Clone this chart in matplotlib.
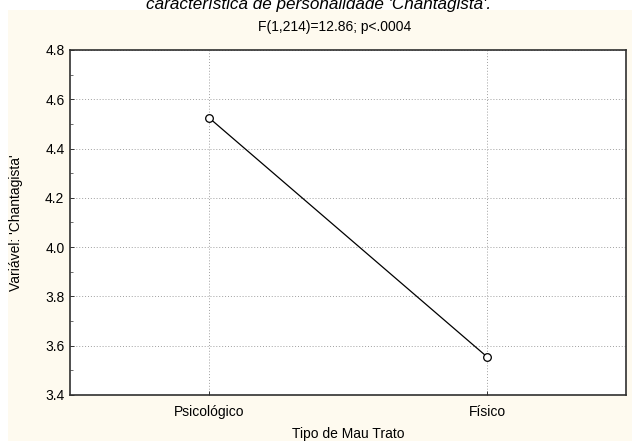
import matplotlib
matplotlib.use('Agg')
import matplotlib.pyplot as plt
from matplotlib.patches import Rectangle
from matplotlib.ticker import MultipleLocator, FormatStrFormatter

plt.rcParams['font.family'] = ['Liberation Sans', 'DejaVu Sans']

# médias por tipo de mau trato
grupos = ['Psicológico', 'Físico']
medias = [4.525, 3.555]

W, H = 634, 441
fig = plt.figure(figsize=(W / 100, H / 100), dpi=100, facecolor='white')

# painel creme de fundo
fig.patches.append(Rectangle((8 / W, 0), 624 / W, 1 - 10 / H, transform=fig.transFigure,
                             facecolor='#fefaef', edgecolor='none', zorder=-10))

ax = fig.add_axes([70 / W, 1 - 395 / H, 556 / W, 345 / H])
ax.set_facecolor('white')

x = list(range(len(grupos)))
ax.plot(x, medias, '-', color='black', linewidth=0.9, zorder=3)
ax.plot(x, medias, 'o', markersize=5.5, markerfacecolor='white',
        markeredgecolor='black', markeredgewidth=0.9, zorder=4)

ax.set_xlim(-0.5, 1.5)
ax.set_ylim(3.4, 4.8)
ax.set_xticks(x)
ax.set_xticklabels(grupos)
ax.yaxis.set_major_locator(MultipleLocator(0.2))
ax.yaxis.set_minor_locator(MultipleLocator(0.1))
ax.yaxis.set_major_formatter(FormatStrFormatter('%.1f'))

ax.grid(True, which='major', linestyle=(0, (1, 2)), color='#a0a0a0', linewidth=0.7)
ax.tick_params(axis='both', which='major', labelsize=10, length=3, width=0.7,
               direction='in', colors='#333333', labelcolor='black')
ax.tick_params(axis='y', which='minor', length=2, width=0.6, direction='in', colors='#555555')
ax.tick_params(axis='y', pad=4)
ax.tick_params(axis='x', pad=7)

for s in ax.spines.values():
    s.set_color('#303030')
    s.set_linewidth(1.2)

ax.set_xlabel('Tipo de Mau Trato', fontsize=10, labelpad=6)
ax.set_ylabel("Variável: 'Chantagista'", fontsize=10, labelpad=16)

fig.text(335 / W, 1 - 27 / H, 'F(1,214)=12.86; p<.0004', ha='center', va='center', fontsize=10)
fig.text(319 / W, 1 - 9 / H, "característica de personalidade 'Chantagista'.",
         ha='center', va='baseline', fontsize=12.3, style='italic')

fig.savefig('out.png', dpi=100, facecolor='white')
